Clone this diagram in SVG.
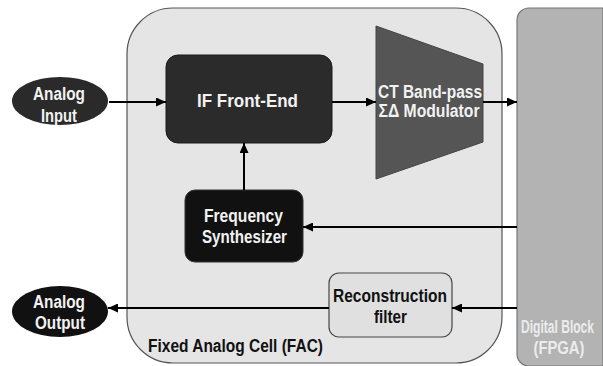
<svg xmlns="http://www.w3.org/2000/svg" width="603" height="366" viewBox="0 0 603 366">
<defs>
<marker id="arr" markerWidth="10" markerHeight="9" refX="10" refY="4.5" orient="auto" markerUnits="userSpaceOnUse">
<path d="M0,0 L10,4.5 L0,9 z" fill="#000"/>
</marker>
<style>
.lbl{font-family:"Liberation Sans",Arial,sans-serif;font-weight:bold;font-size:18px;text-anchor:middle}
.wt{fill:#f2f2f2}
.bk{fill:#111}
.conn{stroke:#000;stroke-width:2;fill:none;marker-end:url(#arr)}
</style>
</defs>
<rect width="603" height="366" fill="#fff"/>
<g id="fac">
<rect x="127" y="8" width="375" height="355" rx="46" ry="46" fill="#e5e5e5" stroke="#555" stroke-width="1.2"/>
<text class="lbl bk" x="235.5" y="352" textLength="175" lengthAdjust="spacingAndGlyphs">Fixed Analog Cell (FAC)</text>
</g>
<g id="digital">
<path d="M603,8 H529 A12,12 0 0 0 517,20 V354 A12,12 0 0 0 529,366 H603 Z" fill="#b3b3b3" stroke="#777" stroke-width="1.2"/>
<text class="lbl" x="557.5" y="333" font-size="14.5" textLength="73" lengthAdjust="spacingAndGlyphs" fill="#ececec" font-weight="normal">Digital Block</text>
<text class="lbl" x="559" y="354" textLength="51" lengthAdjust="spacingAndGlyphs" fill="#ececec">(FPGA)</text>
</g>
<g id="analog-input">
<ellipse cx="60" cy="101" rx="48" ry="24" fill="#2a2a2a"/>
<text class="lbl wt" x="59" y="100" textLength="52" lengthAdjust="spacingAndGlyphs">Analog</text>
<text class="lbl wt" x="59" y="122" textLength="36" lengthAdjust="spacingAndGlyphs">Input</text>
</g>
<g id="if-frontend">
<rect x="166" y="55" width="166" height="88" rx="12" ry="12" fill="#2b2b2b" stroke="#1a1a1a"/>
<text class="lbl wt" x="247.5" y="107" textLength="101" lengthAdjust="spacingAndGlyphs">IF Front-End</text>
</g>
<g id="modulator">
<polygon points="376,26 483,64 483,142 376,179" fill="#555" stroke="#444"/>
<text class="lbl wt" x="430" y="97.5" textLength="104" lengthAdjust="spacingAndGlyphs">CT Band-pass</text>
<text class="lbl wt" x="429" y="117" textLength="101" lengthAdjust="spacingAndGlyphs">ΣΔ Modulator</text>
</g>
<g id="freq-synth">
<rect x="185" y="190" width="118" height="72" rx="10" ry="10" fill="#111" stroke="#333"/>
<text class="lbl wt" x="243.5" y="222" textLength="79" lengthAdjust="spacingAndGlyphs">Frequency</text>
<text class="lbl wt" x="244.5" y="243" textLength="85" lengthAdjust="spacingAndGlyphs">Synthesizer</text>
</g>
<g id="recon-filter">
<rect x="329" y="273" width="123" height="64" rx="10" ry="10" fill="#e0e0e0" stroke="#444" stroke-width="1.2"/>
<text class="lbl bk" x="390" y="302" textLength="114" lengthAdjust="spacingAndGlyphs">Reconstruction</text>
<text class="lbl bk" x="390.5" y="323" textLength="33" lengthAdjust="spacingAndGlyphs">filter</text>
</g>
<g id="analog-output">
<ellipse cx="60" cy="311.5" rx="48" ry="25.5" fill="#111"/>
<text class="lbl wt" x="59" y="308" textLength="52" lengthAdjust="spacingAndGlyphs">Analog</text>
<text class="lbl wt" x="60" y="329" textLength="50" lengthAdjust="spacingAndGlyphs">Output</text>
</g>
<g id="connectors">
<path class="conn" d="M109,102 L166,102"/>
<path class="conn" d="M332,102 L376,102"/>
<path class="conn" d="M483,102 L517,102"/>
<path class="conn" d="M244,190 L244,143"/>
<path class="conn" d="M517,227 L303,227"/>
<path class="conn" d="M517,308 L452,308"/>
<path class="conn" d="M329,308 L108,308"/>
</g>
</svg>
